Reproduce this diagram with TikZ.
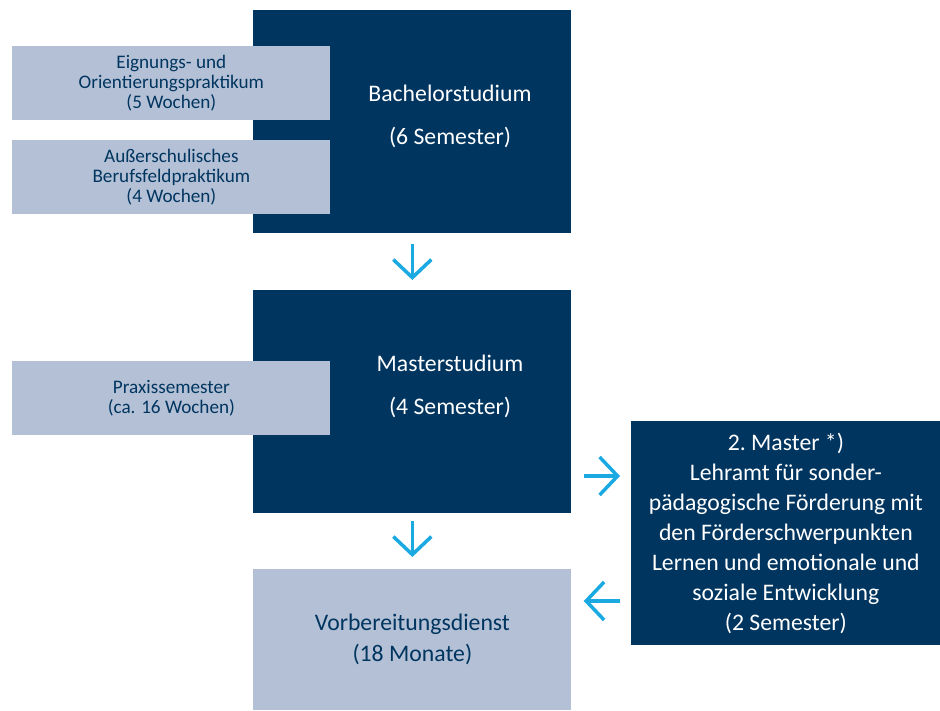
\documentclass[tikz,border=0pt]{standalone}
\usepackage{fontspec}
\setmainfont{Carlito}
\usetikzlibrary{arrows.meta,positioning}

\definecolor{navy}{HTML}{003560}
\definecolor{paleblue}{HTML}{B4C0D5}
\definecolor{arrowblue}{HTML}{1BA9E1}

\tikzset{
    darkbox/.style={fill=navy, draw=none, anchor=north west, minimum width=63.6mm, minimum height=44.6mm},
    lightbox/.style={fill=paleblue, draw=none, anchor=north west, minimum width=63.6mm, minimum height=14.8mm,
        align=center, text=navy, font=\fontsize{10.9}{11.4}\selectfont},
    bigtext/.style={align=center, text=white, font=\fontsize{13.5}{17}\selectfont},
    flow/.style={-{Straight Barb[length=3.6mm,width=7.6mm]}, line width=0.7mm, arrowblue}
}

\begin{document}
\begin{tikzpicture}[x=0.2mm,y=-0.2mm]
    \useasboundingbox (0,0) rectangle (940,710);

    % study phases
    \node[darkbox] (bach) at (253,10) {};
    \node[bigtext] (bachtext) at (450,116) {Bachelorstudium\\[7.5pt](6 Semester)};

    \node[darkbox] (master) at (253,290) {};
    \node[bigtext] (mastertext) at (450,386) {Masterstudium\\[7.5pt](4 Semester)};

    \node[darkbox, minimum width=61.8mm, minimum height=44.8mm, bigtext] (zweit) at (631,421)
        {2.\ Master *)\\Lehramt für sonder-\\pädagogische Förderung mit\\den Förderschwerpunkten\\Lernen und emotionale und\\soziale Entwicklung\\(2 Semester)};

    \node[lightbox, minimum height=28.2mm, font=\fontsize{13.5}{17.6}\selectfont] (vorb) at (253,569)
        {Vorbereitungsdienst\\(18 Monate)};

    % practical phases
    \node[lightbox] (eign) at (12,46) {Eignungs- und\\Orientierungspraktikum\\(5 Wochen)};
    \node[lightbox] (ausser) at (12,140) {Außerschulisches\\Berufsfeldpraktikum\\(4 Wochen)};
    \node[lightbox] (praxis) at (12,361) {Praxissemester\\(ca. 16 Wochen)};

    % arrows
    \draw[flow, shorten <=2mm, shorten >=2mm] (bach.south) -- (master.north);
    \draw[flow, shorten <=1.4mm, shorten >=2.4mm] (master.south) -- (vorb.north);

    \coordinate (r1) at (master.east |- 0,476);
    \draw[flow, shorten <=2.4mm, shorten >=2.2mm] (r1) -- (r1 -| zweit.west);

    \coordinate (l1) at (zweit.west |- 0,601);
    \draw[flow, shorten <=2.2mm, shorten >=2.4mm] (l1) -- (l1 -| vorb.east);
\end{tikzpicture}
\end{document}
